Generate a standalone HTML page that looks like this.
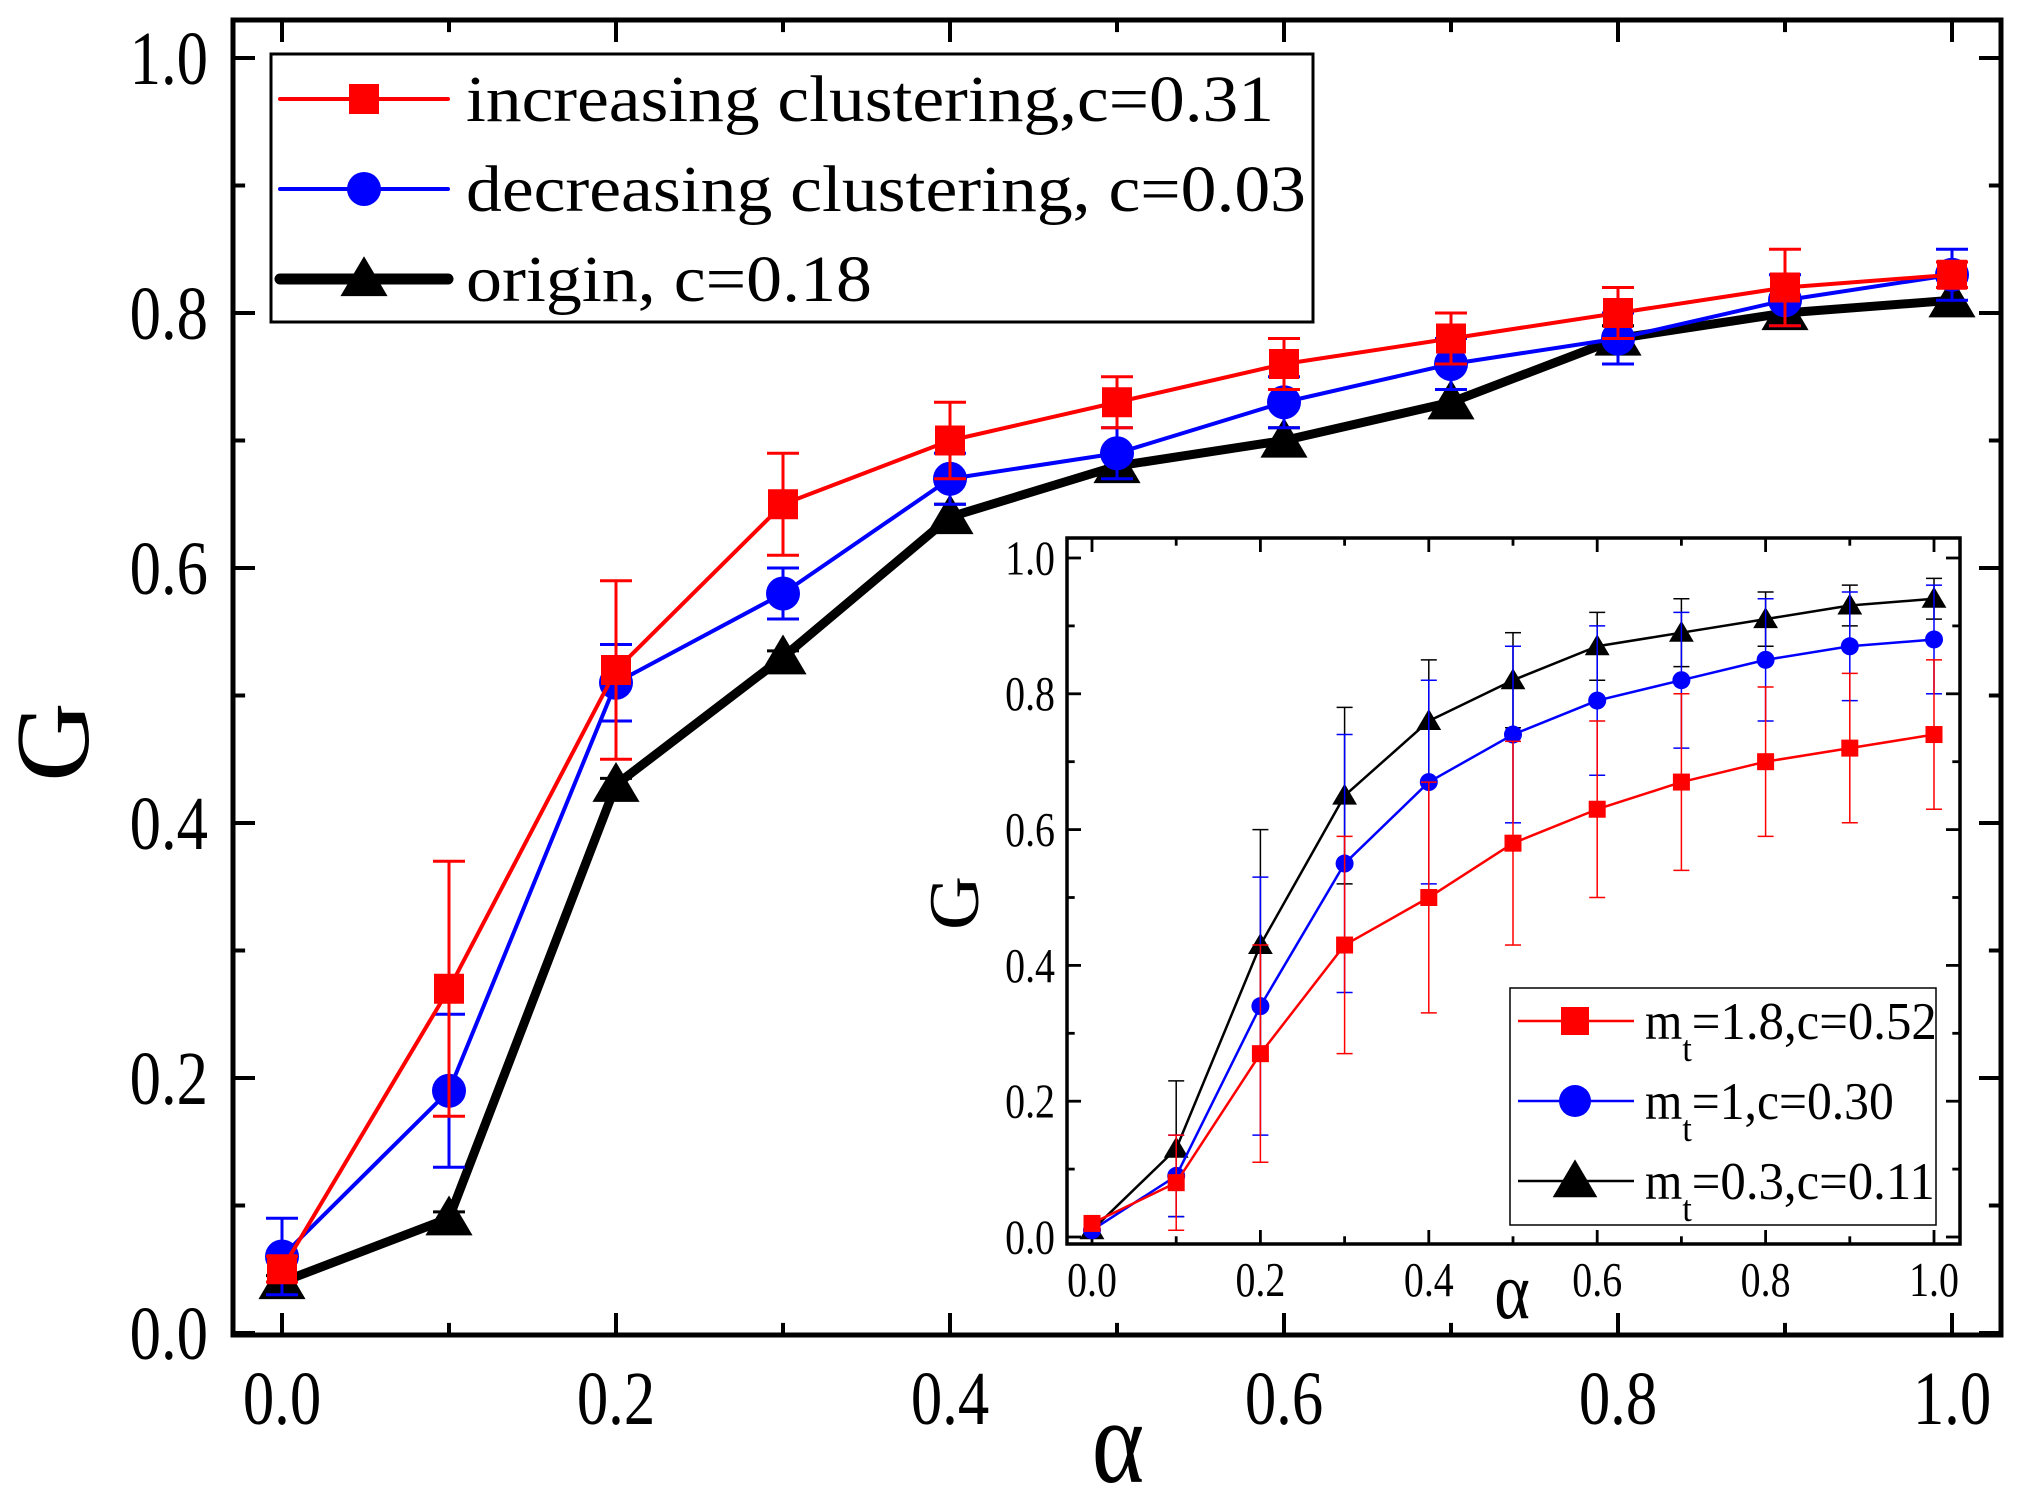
<!DOCTYPE html>
<html><head><meta charset="utf-8"><style>
html,body{margin:0;padding:0;background:#fff}
svg{display:block}
text{font-family:"Liberation Serif",serif}
</style></head><body>
<svg id="chart" width="2023" height="1505" viewBox="0 0 2023 1505" xmlns="http://www.w3.org/2000/svg">
<g id="main"></g>
<g id="inset"></g>
</svg>
<script>
const xs = [0,0.1,0.2,0.3,0.4,0.5,0.6,0.7,0.8,0.9,1.0];
const mainRed = [0.05,0.27,0.52,0.65,0.70,0.73,0.76,0.78,0.80,0.82,0.83];
const mainRedErr = [0.01,0.10,0.07,0.04,0.03,0.02,0.02,0.02,0.02,0.03,0.01];
const mainBlue = [0.06,0.19,0.51,0.58,0.67,0.69,0.73,0.76,0.78,0.81,0.83];
const mainBlueErr = [0.03,0.06,0.03,0.02,0.02,0.02,0.02,0.02,0.02,0.02,0.02];
const mainBlack = [0.04,0.09,0.43,0.53,0.64,0.68,0.70,0.73,0.78,0.80,0.81];
const mainBlackErr = [0.005,0.005,0.005,0.005,0.01,0.01,0.01,0.01,0.01,0.01,0.01];
const insetRed = [0.02,0.08,0.27,0.43,0.50,0.58,0.63,0.67,0.70,0.72,0.74];
const insetRedErr = [0.01,0.07,0.16,0.16,0.17,0.15,0.13,0.13,0.11,0.11,0.11];
const insetBlue = [0.01,0.09,0.34,0.55,0.67,0.74,0.79,0.82,0.85,0.87,0.88];
const insetBlueErr = [0.005,0.06,0.19,0.19,0.15,0.13,0.11,0.10,0.09,0.08,0.08];
const insetBlack = [0.01,0.13,0.43,0.65,0.76,0.82,0.87,0.89,0.91,0.93,0.94];
const insetBlackErr = [0.005,0.10,0.17,0.13,0.09,0.07,0.05,0.05,0.04,0.03,0.03];
const tickLabels = ["0.0","0.2","0.4","0.6","0.8","1.0"];
const tickVals = [0,0.2,0.4,0.6,0.8,1.0];
const legendMain = ["increasing clustering,c=0.31","decreasing clustering, c=0.03","origin, c=0.18"];
const legendInset = ["=1.8,c=0.52","=1,c=0.30","=0.3,c=0.11"];

const NS="http://www.w3.org/2000/svg";
function mk(parent,tag,attrs,txt){const e=document.createElementNS(NS,tag);for(const k in attrs)e.setAttribute(k,attrs[k]);if(txt!==undefined)e.textContent=txt;parent.appendChild(e);return e;}

function marker(g,type,cx,cy,s,color,name){
  let e;
  if(type==='sq') e=mk(g,'rect',{x:cx-s/2,y:cy-s/2,width:s,height:s,fill:color});
  else if(type==='ci') e=mk(g,'circle',{cx:cx,cy:cy,r:s/2,fill:color});
  else e=mk(g,'polygon',{points:`${cx},${cy-s*0.6} ${cx-s*0.62},${cy+s*0.45} ${cx+s*0.62},${cy+s*0.45}`,fill:color});
  
  
}

function plot(g,cfg){
  const X=v=>cfg.x0+(cfg.x1-cfg.x0)*v, Y=v=>cfg.y0+(cfg.y1-cfg.y0)*v;
  const L=cfg.left,R=cfg.right,T=cfg.top,B=cfg.bottom,aw=cfg.aw;
  for(let i=0;i<=10;i++){const v=i/10,maj=i%2==0,len=maj?cfg.tl:cfg.tl*0.55;
    mk(g,'line',{x1:X(v),x2:X(v),y1:B,y2:B-len,stroke:'#000','stroke-width':aw*0.8});
    mk(g,'line',{x1:X(v),x2:X(v),y1:T,y2:T+len,stroke:'#000','stroke-width':aw*0.8});
    mk(g,'line',{x1:L,x2:L+len,y1:Y(v),y2:Y(v),stroke:'#000','stroke-width':aw*0.8});
    mk(g,'line',{x1:R,x2:R-len,y1:Y(v),y2:Y(v),stroke:'#000','stroke-width':aw*0.8});
  }
  const sx=cfg.sx, sy=cfg.sy;
  tickVals.forEach((v,i)=>{
    const t=mk(g,'text',{x:0,y:0,'font-size':cfg.fs,'text-anchor':'middle',transform:`translate(${X(v)},${cfg.xlabY}) scale(${sx},${sy})`},tickLabels[i]);
    
    
    const u=mk(g,'text',{x:0,y:0,'font-size':cfg.fs,'text-anchor':'end',transform:`translate(${cfg.ylabX},${Y(v)+cfg.fs*0.34*sy}) scale(${sx},${sy})`},tickLabels[i]);
    
    
  });
  const fr=mk(g,'rect',{x:L,y:T,width:R-L,height:B-T,fill:'none',stroke:'#000','stroke-width':aw});
  
  
  const xt=mk(g,'text',{x:0,y:0,'font-size':cfg.tfs,'text-anchor':'middle',transform:`translate(${cfg.xtX},${cfg.xtY}) scale(1,1.2)`},'α');
  
  
  const yt=mk(g,'text',{x:0,y:0,'font-size':cfg.tfs,'text-anchor':'middle',transform:`translate(${cfg.ytX},${cfg.ytY}) rotate(-90) scale(1.1,1.05)`},'G');
  
  
  cfg.series.forEach(s=>{
    const sg=mk(g,'g',{});
    
    
    s.vals.forEach((v,i)=>{const e=s.err[i],x=X(xs[i]);
      mk(sg,'line',{x1:x,x2:x,y1:Y(v-e),y2:Y(v+e),stroke:s.color,'stroke-width':cfg.ew});
      mk(sg,'line',{x1:x-cfg.cap,x2:x+cfg.cap,y1:Y(v-e),y2:Y(v-e),stroke:s.color,'stroke-width':cfg.ew});
      mk(sg,'line',{x1:x-cfg.cap,x2:x+cfg.cap,y1:Y(v+e),y2:Y(v+e),stroke:s.color,'stroke-width':cfg.ew});
    });
    mk(sg,'polyline',{points:s.vals.map((v,i)=>X(xs[i])+','+Y(v)).join(' '),fill:'none',stroke:s.color,'stroke-width':s.lw,'stroke-linejoin':'round'});
    s.vals.forEach((v,i)=>marker(sg,s.m,X(xs[i]),Y(v),s.ms,s.color,s.name+'-point'));
  });
}

const mainG=document.getElementById('main');
plot(mainG,{x0:282,x1:1952,y0:1333,y1:58,left:233,right:2001,top:20,bottom:1335,aw:5,tl:22,
  fs:66,sx:0.95,sy:1.15,xlabY:1424,ylabX:208,tfs:100,xtX:1118,xtY:1482,ytX:88,ytY:742,ew:3,cap:16,
  series:[
   {name:'series-origin',vals:mainBlack,err:mainBlackErr,color:'#000',lw:9,m:'tr',ms:38},
   {name:'series-decreasing',vals:mainBlue,err:mainBlueErr,color:'#0000ff',lw:4,m:'ci',ms:34},
   {name:'series-increasing',vals:mainRed,err:mainRedErr,color:'#ff0000',lw:4,m:'sq',ms:30}]});

const lg=mk(mainG,'g',{});


mk(lg,'rect',{x:271,y:54,width:1042,height:268,fill:'#fff',stroke:'#000','stroke-width':3});
const lcol=['#ff0000','#0000ff','#000'],lm=['sq','ci','tr'],llw=[4,4,11],lms=[30,34,38],ly=[99,189,279];
legendMain.forEach((t,i)=>{
  mk(lg,'line',{x1:280,x2:448,y1:ly[i],y2:ly[i],stroke:lcol[i],'stroke-width':llw[i],'stroke-linecap':'round'});
  marker(lg,lm[i],364,ly[i],lms[i],lcol[i],'legend-marker');
  const tx=mk(lg,'text',{x:466,y:ly[i]+22,'font-size':66,textLength:[808,840,406][i],lengthAdjust:'spacingAndGlyphs'},t);
  
  
});

const insG=document.getElementById('inset');
mk(insG,'rect',{x:1067,y:538,width:893,height:706,fill:'#fff'});
plot(insG,{x0:1092,x1:1934,y0:1237,y1:558,left:1067,right:1960,top:538,bottom:1244,aw:3.5,tl:14,
  fs:42,sx:0.95,sy:1.15,xlabY:1296,ylabX:1055,tfs:68,xtX:1512,xtY:1318,ytX:978,ytY:903,ew:1.5,cap:8,
  series:[
   {name:'inset-series-mt-0.3',vals:insetBlack,err:insetBlackErr,color:'#000',lw:2.5,m:'tr',ms:20},
   {name:'inset-series-mt-1',vals:insetBlue,err:insetBlueErr,color:'#0000ff',lw:2.5,m:'ci',ms:18},
   {name:'inset-series-mt-1.8',vals:insetRed,err:insetRedErr,color:'#ff0000',lw:2.5,m:'sq',ms:17}]});
const ilg=mk(insG,'g',{});


mk(ilg,'rect',{x:1510,y:988,width:426,height:237,fill:'#fff',stroke:'#000','stroke-width':1.5});
const iy=[1021,1101,1181],ims=[28,32,36],iw=[245,202,243];
legendInset.forEach((t,i)=>{
  mk(ilg,'line',{x1:1518,x2:1634,y1:iy[i],y2:iy[i],stroke:lcol[i],'stroke-width':2.5});
  marker(ilg,lm[i],1575,iy[i],ims[i],lcol[i],'legend-marker');
  const tx=mk(ilg,'text',{x:0,y:0,'font-size':48,transform:`translate(1645,${iy[i]+18}) scale(1,1.1)`},'');
  
  
  mk(tx,'tspan',{},'m');
  mk(tx,'tspan',{dy:20,'font-size':34},'t');
  mk(tx,'tspan',{dy:-20,textLength:iw[i],lengthAdjust:'spacingAndGlyphs'},t);
});
</script>
</body></html>
